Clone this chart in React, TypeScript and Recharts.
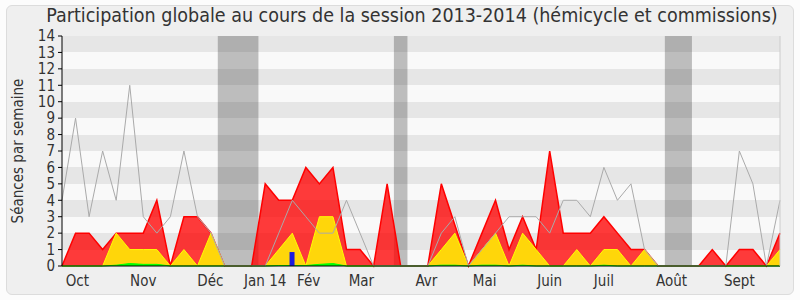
import React from 'react';
import { ComposedChart, Area, Line, Bar, XAxis, YAxis, CartesianGrid, ReferenceArea } from 'recharts';

// one value per week, from the first week of October 2013 to the end of September 2014
const presences = [0, 2, 2, 1, 2, 2, 2, 4, 0, 3, 3, 2, 0, 0, 0, 5, 4, 4, 6, 5, 6, 1, 1, 0, 5, 0, 0, 0, 5, 2.5, 0, 2, 4, 1, 3, 1, 7, 2, 2, 2, 3, 2, 1, 1, 0, 0, 0, 0, 1, 0, 1, 1, 0, 2];
const interventions = [0, 0, 0, 0, 2, 1, 1, 1, 0, 1, 0, 2, 0, 0, 0, 0, 1, 2, 0, 3, 3, 0, 0, 0, 0, 0, 0, 0, 1, 2, 0, 1, 2, 0, 2, 1, 0, 0, 1, 0, 1, 1, 0, 1, 0, 0, 0, 0, 0, 0, 0, 0, 0, 1];
const questions = [0, 0, 0, 0, 0.05, 0.15, 0.1, 0.1, 0, 0, 0, 0, 0, 0, 0, 0, 0.03, 0.03, 0.03, 0.1, 0.15, 0, 0, 0, 0, 0, 0, 0, 0.05, 0.05, 0, 0.05, 0.05, 0, 0.05, 0, 0, 0, 0, 0, 0.05, 0, 0, 0, 0, 0, 0, 0, 0, 0, 0, 0, 0, 0];
const mediane = [4, 9, 3, 7, 4, 11, 3, 2, 3, 7, 3, 2, 0, 0, 0, 0, 2, 4, 3, 2, 2, 4, 2, 0, 0, 0, 0, 0, 2, 3, 0, 1, 2, 3, 3, 3, 2, 4, 4, 3, 6, 4, 5, 1, 0, 0, 0, 0, 0, 0, 7, 5, 0, 4];
const votes: Record<number, number> = { 17: 0.85 };

const vacances = [
  [11.5, 14.5],
  [24.5, 25.5],
  [44.5, 46.5],
];

const moisNoms = ['Oct', 'Nov', 'Déc', 'Jan 14', 'Fév', 'Mar', 'Avr', 'Mai', 'Juin', 'Juil', 'Août', 'Sept'];
const moisPos = [1.13, 6, 10.95, 15, 18.2, 22.1, 26.9, 31.2, 36, 40, 45, 50];
const yTicks = [0, 1, 2, 3, 4, 5, 6, 7, 8, 9, 10, 11, 12, 13, 14];

const data = presences.map((p, i) => ({
  semaine: i,
  presences: p,
  interventions: interventions[i],
  questions: questions[i],
  mediane: mediane[i],
  votes: votes[i] ?? null,
}));
const weekTicks = data.map((d) => d.semaine);

const font = '"DejaVu Sans Condensed", "DejaVu Sans", sans-serif';
const tickStyle = { fontSize: 15, fill: '#333', fontFamily: font };

export default function App() {
  return (
    <div style={{ position: 'absolute', left: 0, top: 0, width: 800, height: 300, overflow: 'hidden', background: '#fcfcfc', fontFamily: font }}>
      <div style={{ position: 'absolute', left: 6, top: 5, width: 786, height: 288, border: '1px solid #dcdcdc', borderRadius: 6, background: '#efefef' }} />
      <div style={{ position: 'absolute', left: 12, top: 4, width: 800, textAlign: 'center', fontSize: 19.5, color: '#333', whiteSpace: 'nowrap' }}>
        Participation globale au cours de la session 2013-2014 (hémicycle et commissions)
      </div>
      <div style={{ position: 'absolute', left: 18, top: 151, width: 0, height: 0 }}>
        <div style={{ position: 'absolute', left: 0, top: 0, transform: 'translate(-50%, -50%) rotate(-90deg)', fontSize: 15, color: '#333', whiteSpace: 'nowrap' }}>
          Séances par semaine
        </div>
      </div>
      <div style={{ position: 'absolute', left: 0, top: 0 }}>
        <ComposedChart width={800} height={300} data={data} margin={{ top: 35, right: 0, bottom: 5, left: 0 }}>
          <CartesianGrid xAxisId="a" yAxisId="y" vertical={false} stroke="transparent" horizontalFill={['#e6e6e6', '#f9f9f9']} />
          <XAxis xAxisId="a" dataKey="semaine" type="number" domain={[0, 53]} ticks={weekTicks} interval={0} height={1} tick={false} tickSize={4} stroke="#000" />
          <XAxis xAxisId="b" dataKey="semaine" type="number" domain={[0, 53]} ticks={moisPos} interval={0} height={28} axisLine={false} tickLine={false} tickSize={4} tickMargin={4} tick={tickStyle} tickFormatter={(v: number) => moisNoms[moisPos.indexOf(v)] ?? ''} />
          <XAxis xAxisId="t" orientation="top" dataKey="semaine" type="number" domain={[0, 53]} ticks={weekTicks} interval={0} height={1} tick={false} tickSize={2} axisLine={false} stroke="#000" />
          <YAxis yAxisId="y" domain={[0, 14]} ticks={yTicks} interval={0} width={62} tickSize={4} tickMargin={3} stroke="#000" tick={tickStyle} />
          <YAxis yAxisId="r" orientation="right" domain={[0, 14]} width={20} tick={false} tickLine={false} stroke="#cccccc" />
          {vacances.map(([a, b], k) => (
            <ReferenceArea key={k} xAxisId="a" yAxisId="y" x1={a} x2={b} y1={0} y2={14} fill="#000" fillOpacity={0.24} stroke="none" />
          ))}
          <Line xAxisId="a" yAxisId="y" type="linear" dataKey="mediane" stroke="#aaaaaa" strokeWidth={1} dot={false} isAnimationActive={false} />
          <Area xAxisId="a" yAxisId="y" type="linear" dataKey="presences" stroke="#ff0000" strokeWidth={1.5} fill="#ff0000" fillOpacity={0.77} isAnimationActive={false} />
          <Area xAxisId="a" yAxisId="y" type="linear" dataKey="interventions" stroke="#ffff00" strokeWidth={1} fill="#ffd60a" fillOpacity={1} isAnimationActive={false} />
          <Area xAxisId="a" yAxisId="y" type="linear" dataKey="questions" stroke="#00ff00" strokeWidth={1} fill="#00ff00" fillOpacity={1} isAnimationActive={false} />
          <Bar xAxisId="a" yAxisId="y" dataKey="votes" fill="#1b1bdd" barSize={5} isAnimationActive={false} />
        </ComposedChart>
      </div>
    </div>
  );
}
